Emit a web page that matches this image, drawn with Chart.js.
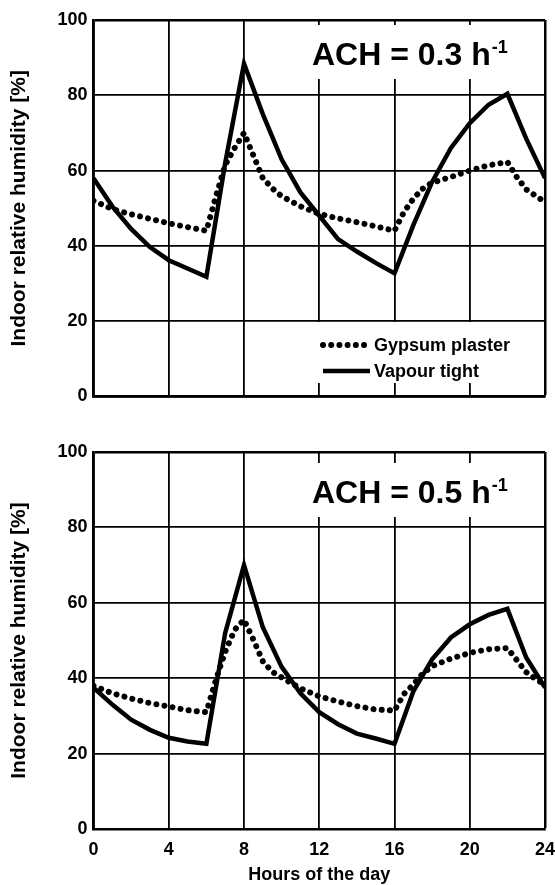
<!DOCTYPE html>
<html>
<head>
<meta charset="utf-8">
<script src="https://cdn.jsdelivr.net/npm/chart.js@4.4.1/dist/chart.umd.min.js"></script>
<style>
    body { margin: 0; background: #fff; }
    #wrap { position: relative; width: 555px; height: 885px; }
    canvas { position: absolute; left: 0; }
    #topChart { top: 0; }
    #bottomChart { top: 420px; }
</style>
</head>
<body>
<div id="wrap">
    <canvas id="topChart" width="555" height="420"></canvas>
    <canvas id="bottomChart" width="555" height="465"></canvas>
</div>
<script>
const hourlySteps = [0, 1, 2, 3, 4, 5, 6, 7, 8, 9, 10, 11, 12, 13, 14, 15, 16, 17, 18, 19, 20, 21, 22, 23, 24];
const gypsumSteps = [0, 1, 2, 3, 4, 5, 6, 6.5, 7, 7.5, 8, 8.5, 9, 9.5, 10, 11, 12, 13, 14, 15, 16, 16.5, 17, 17.5, 18, 19, 20, 21, 22, 22.5, 23, 23.5, 24];

// ACH = 0.3 h-1
const gypsumTop = [52, 49.8, 48.4, 47.2, 46, 45, 44, 53, 61.5, 66, 70, 64, 58, 55.3, 53.2, 50.5, 48.5, 47.3, 46.3, 45.2, 44, 49, 52.5, 55.2, 56.8, 58.3, 60, 61.4, 62.3, 58.3, 55, 53.3, 51.7];
const vapourTop = [58, 50.5, 44.5, 39.7, 36.2, 34, 31.8, 62, 88.4, 75, 63, 54.2, 48, 41.8, 38.5, 35.5, 32.7, 45.5, 57, 66, 72.6, 77.5, 80.4, 68.5, 58];

// ACH = 0.5 h-1
const gypsumBottom = [38, 36, 34.6, 33.4, 32.5, 31.5, 31, 39.5, 47, 52.8, 55.5, 50.2, 44.5, 41.7, 40.2, 37.3, 35.2, 33.8, 32.6, 31.7, 31.4, 35.8, 38.3, 41.2, 43.2, 45.2, 46.7, 47.7, 48, 44.8, 41.6, 39.8, 38.3];
const vapourBottom = [37.5, 33, 29, 26.3, 24.2, 23.2, 22.6, 52, 70, 53.5, 43, 36, 31, 27.8, 25.3, 24, 22.6, 36.5, 45, 50.8, 54.3, 56.8, 58.4, 45.5, 37.5];

const hourTicks = [0, 4, 8, 12, 16, 20, 24];
const rhTicks = [0, 20, 40, 60, 80, 100];
const seriesNames = ['Gypsum plaster', 'Vapour tight'];

const FONT = '"Liberation Sans", Arial, Helvetica, sans-serif';
Chart.defaults.font.family = FONT;
Chart.defaults.color = '#000';

function pts(xs, ys) {
    return xs.map((x, i) => ({ x: x, y: ys[i] }));
}

// white boxes with the ACH label and the legend, drawn over the grid
const panelNotes = {
    id: 'panelNotes',
    beforeDatasetsDraw(chart, args, o) {
        const ctx = chart.ctx;
        const a = chart.chartArea;
        ctx.save();
        ctx.fillStyle = '#fff';
        ctx.fillRect(o.boxLeft, a.top + o.boxTop, a.right - 4 - o.boxLeft, o.boxHeight);

        ctx.fillStyle = '#000';
        ctx.textBaseline = 'alphabetic';
        ctx.font = 'bold 32px ' + FONT;
        ctx.fillText(o.title, o.textLeft, a.top + o.baseline);
        const w = ctx.measureText(o.title).width;
        ctx.font = 'bold 18px ' + FONT;
        ctx.fillText(o.sup, o.textLeft + w + 1, a.top + o.baseline - 12);

        if (o.legend) {
            ctx.fillStyle = '#fff';
            ctx.fillRect(o.legend.left, o.legend.top, a.right - 4 - o.legend.left, o.legend.height);
            chart.data.datasets.forEach((ds, i) => {
                const y = o.legend.rows[i];
                ctx.save();
                ctx.strokeStyle = ds.borderColor;
                ctx.lineWidth = ds.borderWidth;
                ctx.lineCap = ds.borderCapStyle || 'butt';
                ctx.setLineDash(ds.borderDash || []);
                ctx.beginPath();
                ctx.moveTo(o.legend.lineFrom, y);
                ctx.lineTo(o.legend.lineTo, y);
                ctx.stroke();
                ctx.restore();
                ctx.fillStyle = '#000';
                ctx.font = 'bold 18px ' + FONT;
                ctx.textBaseline = 'middle';
                ctx.fillText(ds.label, o.legend.textLeft, y + 1);
            });
        }
        ctx.restore();
    }
};

function makeChart(id, gypsum, vapour, showX, pad, xHeight, notes) {
    const axisFont = { size: 18, weight: 'bold' };
    return new Chart(document.getElementById(id), {
        type: 'line',
        data: {
            datasets: [{
                label: seriesNames[0],
                data: pts(gypsumSteps, gypsum),
                borderColor: '#000',
                borderWidth: 6,
                borderDash: [0.01, 8.2],
                borderCapStyle: 'round',
                pointRadius: 0,
                fill: false
            }, {
                label: seriesNames[1],
                data: pts(hourlySteps, vapour),
                borderColor: '#000',
                borderWidth: 4.5,
                borderJoinStyle: 'miter',
                pointRadius: 0,
                fill: false
            }]
        },
        options: {
            responsive: false,
            animation: false,
            devicePixelRatio: 1,
            layout: { padding: { top: pad, right: 10, bottom: 0, left: 0 } },
            scales: {
                x: {
                    type: 'linear',
                    min: 0,
                    max: 24,
                    afterBuildTicks: s => { s.ticks = hourTicks.map(v => ({ value: v })); },
                    afterFit: s => { s.height = xHeight; s.paddingLeft = 0; s.paddingRight = 0; },
                    grid: {
                        color: '#000',
                        lineWidth: c => (c.tick && c.tick.value === 24) ? 2.5 : 1.8,
                        drawTicks: false
                    },
                    border: { color: '#000', width: 2.5 },
                    ticks: { display: showX, padding: 10, font: axisFont, maxRotation: 0 },
                    title: {
                        display: showX,
                        text: 'Hours of the day',
                        font: axisFont,
                        padding: { top: 0, bottom: -1 }
                    }
                },
                y: {
                    min: 0,
                    max: 100,
                    afterBuildTicks: s => { s.ticks = rhTicks.map(v => ({ value: v })); },
                    afterFit: s => { s.width = 93.5; s.paddingTop = 0; s.paddingBottom = 0; },
                    grid: {
                        color: '#000',
                        lineWidth: c => (c.tick && c.tick.value === 100) ? 2.5 : 1.8,
                        drawTicks: false
                    },
                    border: { color: '#000', width: 2.5 },
                    ticks: { padding: 6, font: axisFont },
                    title: {
                        display: true,
                        text: 'Indoor relative humidity [%]',
                        font: { size: 21, weight: 'bold' },
                        padding: { top: 7, bottom: 0 }
                    }
                }
            },
            plugins: {
                legend: { display: false },
                tooltip: { enabled: false },
                panelNotes: notes
            }
        },
        plugins: [panelNotes]
    });
}

makeChart('topChart', gypsumTop, vapourTop, false, 20, 23.5, {
    title: 'ACH = 0.3 h', sup: '-1',
    boxLeft: 310, boxTop: 5, boxHeight: 54, textLeft: 312, baseline: 45,
    legend: { left: 311, top: 322, height: 61, rows: [345, 371], lineFrom: 323, lineTo: 370, textLeft: 374 }
});

makeChart('bottomChart', gypsumBottom, vapourBottom, true, 32, 56, {
    title: 'ACH = 0.5 h', sup: '-1',
    boxLeft: 310, boxTop: 11, boxHeight: 54, textLeft: 312, baseline: 51,
    legend: null
});
</script>
</body>
</html>
